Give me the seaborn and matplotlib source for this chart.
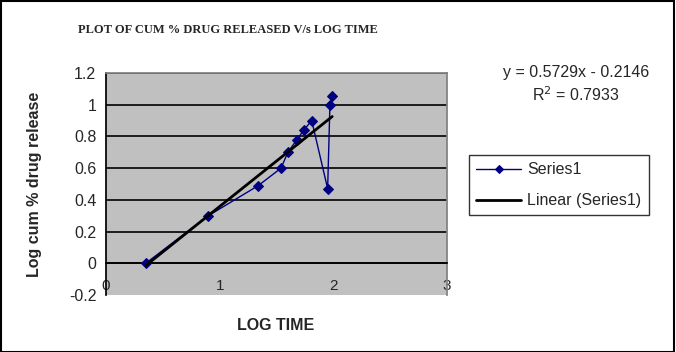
import numpy as np
import pandas as pd
import matplotlib
matplotlib.use('Agg')
import matplotlib.pyplot as plt
import seaborn as sns

# values
log_time = [0.35, 0.90, 1.34, 1.54, 1.60, 1.68, 1.74, 1.81, 1.95, 1.97, 1.99, 1.99]
log_release = [0.00, 0.30, 0.49, 0.60, 0.70, 0.78, 0.84, 0.90, 0.47, 1.00, 1.04, 1.075]
slope = 0.5729
intercept = -0.2146
r_squared = 0.7933
y_ticks = [-0.2, 0, 0.2, 0.4, 0.6, 0.8, 1.0, 1.2]
y_tick_labels = ['-0.2', '0', '0.2', '0.4', '0.6', '0.8', '1', '1.2']
x_ticks = [0, 1, 2, 3]

sns.set_theme(style='white')
plt.rcParams['font.family'] = ['Liberation Sans', 'DejaVu Sans']

df = pd.DataFrame({'x': log_time, 'y': log_release})
x_fit = np.array([min(log_time), max(log_time)])
fit_df = pd.DataFrame({'x': x_fit, 'y': slope * x_fit + intercept})

fig = plt.figure(figsize=(6.76, 3.52), dpi=100)
W, H = 676, 352
ax = fig.add_axes([106 / W, 1 - 295 / H, 341 / W, 222 / H])
ax.set_facecolor('#C0C0C0')

for v in y_ticks[1:]:
    ax.axhline(v, color='black', lw=1.2, zorder=1)

sns.lineplot(data=df, x='x', y='y', sort=False, color='#000080', lw=1,
             marker='D', markersize=5.5, markeredgecolor='#000080',
             label='Series1', ax=ax, zorder=3)
sns.lineplot(data=fit_df, x='x', y='y', color='black', lw=2,
             label='Linear (Series1)', ax=ax, zorder=4)

fs = 11.5
ax.set_xlim(0, 3)
ax.set_ylim(-0.2, 1.2)
ax.set_xticks(x_ticks)
ax.set_xticklabels([str(t) for t in x_ticks], fontsize=fs)
ax.set_yticks(y_ticks)
ax.set_yticklabels(y_tick_labels, fontsize=fs)
ax.spines['bottom'].set_position(('data', 0))
ax.spines['bottom'].set_color('black')
ax.spines['left'].set_color('black')
for s in ['top', 'right']:
    ax.spines[s].set_color('#808080')
ax.tick_params(axis='both', length=4, width=1, color='black', direction='out', pad=3)
ax.tick_params(axis='x', pad=7)
ax.set_xlabel('')
ax.set_ylabel('')

leg = ax.legend(loc='upper left', bbox_to_anchor=(469 / W, 1 - 155 / H), bbox_transform=fig.transFigure,
                fontsize=fs, frameon=True, fancybox=False, edgecolor='black', borderpad=0.45,
                handlelength=2.8, handletextpad=0.4, labelspacing=1.0, borderaxespad=0)
leg.get_frame().set_linewidth(1)
for h in leg.legend_handles:
    h.set_markersize(4.5)

fig.text(228 / W, 1 - 30 / H, 'PLOT OF CUM % DRUG RELEASED V/s LOG TIME', ha='center', va='center',
         fontsize=9, fontweight='bold', family=['Liberation Serif'])
fig.text(276 / W, 1 - 325 / H, 'LOG TIME', ha='center', va='center', fontsize=fs, fontweight='bold')
fig.text(35 / W, 1 - 184 / H, 'Log cum % drug release', ha='center', va='center', rotation=90,
         fontsize=fs, fontweight='bold')
fig.text(576 / W, 1 - 72 / H, f'y = {slope}x - {abs(intercept)}', ha='center', va='center', fontsize=fs)
fig.text(576 / W, 1 - 95 / H, f'R$^2$ = {r_squared}', ha='center', va='center', fontsize=fs)

border = plt.Rectangle((0.5 / W, 0.5 / H), 1 - 3 / W, 1 - 1.5 / H, transform=fig.transFigure,
                       fill=False, edgecolor='black', lw=1.5)
fig.patches.append(border)

fig.savefig('out.png', dpi=100)
